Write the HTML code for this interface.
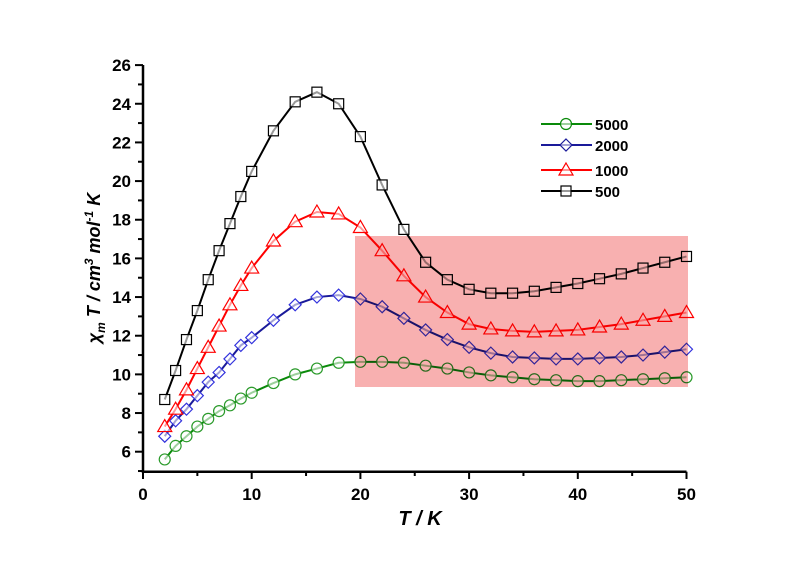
<!DOCTYPE html>
<html><head><meta charset="utf-8"><style>
body{margin:0;background:#fff}
svg text{font-family:"Liberation Sans",sans-serif;font-weight:bold}
</style></head><body>
<svg id="chart" width="800" height="566" viewBox="0 0 800 566">
<rect x="0" y="0" width="800" height="566" fill="#fff"/>
<g id="plot"></g>
</svg>
<script>
const temps=[2,3,4,5,6,7,8,9,10,12,14,16,18,20,22,24,26,28,30,32,34,36,38,40,42,44,46,48,50];
const s500=[8.7,10.2,11.8,13.3,14.9,16.4,17.8,19.2,20.5,22.6,24.1,24.6,24.0,22.3,19.8,17.5,15.8,14.9,14.4,14.2,14.2,14.3,14.5,14.7,14.95,15.2,15.5,15.8,16.1];
const s1000=[7.3,8.2,9.2,10.3,11.4,12.5,13.6,14.6,15.5,16.9,17.9,18.4,18.3,17.6,16.4,15.1,14.0,13.2,12.6,12.35,12.25,12.2,12.25,12.3,12.45,12.6,12.8,13.0,13.2];
const s2000=[6.8,7.6,8.2,8.9,9.6,10.1,10.8,11.5,11.9,12.8,13.6,14.0,14.1,13.9,13.5,12.9,12.3,11.8,11.4,11.1,10.9,10.85,10.8,10.8,10.85,10.9,11.0,11.15,11.3];
const s5000=[5.6,6.3,6.8,7.3,7.7,8.1,8.4,8.75,9.05,9.55,10.0,10.3,10.6,10.65,10.65,10.6,10.45,10.3,10.1,9.95,9.85,9.75,9.7,9.65,9.65,9.7,9.75,9.8,9.85];
const xTicks=[0,10,20,30,40,50];
const yTicks=[6,8,10,12,14,16,18,20,22,24,26];
const legendLabels=["5000","2000","1000","500"];

const NS="http://www.w3.org/2000/svg";
const g=document.getElementById('plot');
const X=v=>143+v*10.87;
const Y=v=>451.7-(v-6)*19.33;
function el(t,a,p){const e=document.createElementNS(NS,t);for(const k in a)e.setAttribute(k,a[k]);(p||g).appendChild(e);return e;}

// axes
const ax=el('path',{d:`M143,65 V471.7 H${X(50)}`,stroke:'#000','stroke-width':2.5,fill:'none'});


for(let v=0;v<=50;v+=5){
  el('line',{x1:X(v),x2:X(v),y1:471.7,y2:v%10==0?479:476,stroke:'#000','stroke-width':2});
}
xTicks.forEach(v=>{
  const t=el('text',{x:X(v),y:500,'text-anchor':'middle','font-size':17});
  t.textContent=v;
  
  
});
for(let v=5;v<=26;v+=1){
  el('line',{x1:143,x2:v%2==0?135:138,y1:Y(v),y2:Y(v),stroke:'#000','stroke-width':2});
}
yTicks.forEach(v=>{
  const t=el('text',{x:131,y:Y(v)+6,'text-anchor':'end','font-size':17});
  t.textContent=v;
  
  
});
const xt=el('text',{x:420,y:525,'text-anchor':'middle','font-size':20,'font-style':'italic'});
xt.textContent='T / K';


const yt=el('text',{transform:'translate(100,268) rotate(-90)','text-anchor':'middle','font-size':18,'font-style':'italic'});
yt.innerHTML='χ<tspan font-size="12" dy="5">m</tspan><tspan dy="-5"> T / cm</tspan><tspan font-size="12" dy="-7">3</tspan><tspan dy="7">  mol</tspan><tspan font-size="12" dy="-7">-1</tspan><tspan dy="7"> K</tspan>';



function marker(type,x,y,color,parent){
  let m;
  if(type==='sq') m=el('rect',{x:x-5,y:y-5,width:10,height:10},parent);
  else if(type==='di') m=el('path',{d:`M${x},${y-6}L${x+6},${y}L${x},${y+6}L${x-6},${y}Z`},parent);
  else if(type==='tri') m=el('path',{d:`M${x},${y-7}L${x+7},${y+5}L${x-7},${y+5}Z`},parent);
  else m=el('circle',{cx:x,cy:y,r:5.5},parent);
  m.setAttribute('fill','#fff');m.setAttribute('fill-opacity','0.6');
  m.setAttribute('stroke',color);m.setAttribute('stroke-width',1.2);
  return m;
}
const series=[[s5000,'#0a8a0a','ci','series-5000'],[s2000,'#1a1a9a','di','series-2000'],[s1000,'#ff0000','tri','series-1000'],[s500,'#000','sq','series-500']];
series.forEach(([d,c,m,name])=>{
  const sg=el('g',{});
  
  
  const pts=temps.map((t,i)=>X(t)+','+Y(d[i])).join(' ');
  el('polyline',{points:pts,fill:'none',stroke:c,'stroke-width':2},sg);
  temps.forEach((t,i)=>{
    const mk=marker(m,X(t),Y(d[i]),c==='#0a8a0a'?'#2a9a2a':c==='#1a1a9a'?'#3333dd':c,sg);
    
    
  });
});

// highlight overlay (on top, multiplied)
const hl=el('rect',{x:355,y:236,width:333,height:151,fill:'#f8b0b0',style:'mix-blend-mode:multiply'});



// legend
const ly=[124,145,170,191];
series.forEach(([d,c,m],i)=>{
  const lg=el('g',{});
  
  
  el('line',{x1:541,x2:592,y1:ly[i],y2:ly[i],stroke:c,'stroke-width':2},lg);
  marker(m,566,ly[i],c,lg);
  const t=el('text',{x:595,y:ly[i]+6,'font-size':15},lg);
  t.textContent=legendLabels[i];
});
</script>
</body></html>
